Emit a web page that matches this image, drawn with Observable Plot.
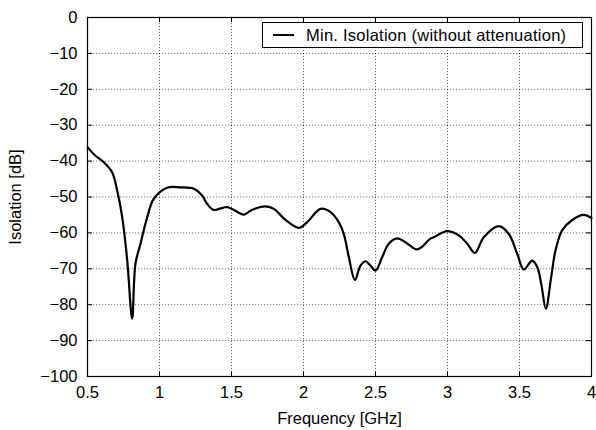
<!DOCTYPE html>
<html>
<head>
<meta charset="utf-8">
<script src="https://cdn.jsdelivr.net/npm/d3@7"></script>
<script src="https://cdn.jsdelivr.net/npm/@observablehq/plot@0.6"></script>
<style>
  html, body { margin: 0; padding: 0; background: #fff; }
  #wrap { position: relative; width: 596px; height: 430px; font-family: "Liberation Sans", Arial, Helvetica, sans-serif; }
  #legend { position: absolute; left: 262px; top: 22px; width: 321px; height: 26px; border: 1px solid #000; background: #fff; box-sizing: border-box; display: flex; align-items: center; font-size: 16.5px; letter-spacing: 0.25px; color: #000; white-space: nowrap; }
  #legend .sw { width: 21px; height: 0; border-top: 2px solid #000; margin-left: 10px; margin-right: 12px; }
</style>
</head>
<body>
<div id="wrap"></div>
<script>
const freq = [0.5, 0.55, 0.613, 0.671, 0.706, 0.741, 0.776, 0.81, 0.833, 0.868, 0.915, 0.96, 1.053, 1.146, 1.238, 1.296, 1.331, 1.377, 1.47, 1.585, 1.632, 1.701, 1.736, 1.794, 1.875, 1.968, 2.026, 2.118, 2.188, 2.245, 2.28, 2.315, 2.357, 2.396, 2.431, 2.465, 2.5, 2.546, 2.592, 2.651, 2.708, 2.782, 2.812, 2.882, 2.905, 2.998, 3.078, 3.137, 3.19, 3.252, 3.356, 3.426, 3.484, 3.53, 3.588, 3.623, 3.651, 3.683, 3.72, 3.75, 3.796, 3.866, 3.947, 4.0];
const isolation = [-36.1, -38.3, -40.3, -43.1, -48.2, -55.6, -67.7, -83.9, -68.6, -63, -55.6, -50.5, -47.4, -47.3, -47.7, -49.6, -51.9, -53.6, -52.8, -54.9, -53.8, -52.8, -52.6, -53.3, -56.4, -58.6, -57, -53.3, -54.2, -57, -60.3, -66.8, -73.1, -69.1, -67.9, -69.1, -70.5, -66.8, -63, -61.5, -62.6, -64.6, -64.2, -61.6, -61.2, -59.5, -60.7, -63, -65.6, -61.2, -58.1, -60.3, -65.8, -70.2, -67.7, -69.5, -74.2, -81.1, -72.3, -64.9, -59.3, -56.4, -55, -55.9];
const xTicks = [0.5, 1, 1.5, 2, 2.5, 3, 3.5, 4];
const yTicks = [0, -10, -20, -30, -40, -50, -60, -70, -80, -90, -100];
const seriesName = "Min. Isolation (without attenuation)";

const data = freq.map((f, i) => ({f, v: isolation[i]}));
const xGrid = xTicks.slice(1, -1);
const yGrid = yTicks.slice(1, -1);
const tickLenX = 5 / 144;   // ~5px in data units
const tickLenY = 5 / 3.59;

const chart = Plot.plot({
  width: 596,
  height: 430,
  marginLeft: 87,
  marginRight: 5,
  marginTop: 17,
  marginBottom: 54,
  style: {fontFamily: '"Liberation Sans", Arial, Helvetica, sans-serif', fontSize: "16.5px", color: "#000", background: "#fff"},
  x: {domain: [0.5, 4]},
  y: {domain: [-100, 0]},
  marks: [
    Plot.ruleX(xGrid, {x: d => d, stroke: "#000", strokeOpacity: 0.7, strokeWidth: 0.8, strokeDasharray: "1.2,1.8"}),
    Plot.ruleY(yGrid, {y: d => d, stroke: "#000", strokeOpacity: 0.7, strokeWidth: 0.8, strokeDasharray: "1.2,1.8"}),
    // inward ticks
    Plot.ruleX(xTicks, {x: d => d, y1: -100, y2: -100 + tickLenY, stroke: "#000"}),
    Plot.ruleX(xTicks, {x: d => d, y1: 0, y2: -tickLenY, stroke: "#000"}),
    Plot.ruleY(yTicks, {y: d => d, x1: 0.5, x2: 0.5 + tickLenX, stroke: "#000"}),
    Plot.ruleY(yTicks, {y: d => d, x1: 4, x2: 4 - tickLenX, stroke: "#000"}),
    Plot.axisX({ticks: xTicks, tickSize: 0, tickPadding: 10, fontSize: 16.5, tickFormat: d => String(d), label: "Frequency [GHz]", labelAnchor: "center", labelArrow: "none", labelOffset: 47}),
    Plot.axisY({ticks: yTicks, tickSize: 0, tickPadding: 10, fontSize: 16.5, tickFormat: d => d < 0 ? "\u2212" + Math.abs(d) : String(d), label: "Isolation [dB]", labelAnchor: "center", labelArrow: "none", labelOffset: 78}),
    Plot.line(data, {x: "f", y: "v", curve: "catmull-rom", stroke: "#000", strokeWidth: 2.2}),
    Plot.frame({stroke: "#000", strokeWidth: 1.2})
  ]
});

const wrap = document.getElementById("wrap");
wrap.appendChild(chart);
const lg = document.createElement("div");
lg.id = "legend";
lg.innerHTML = '<div class="sw"></div><span>' + seriesName + '</span>';
wrap.appendChild(lg);
</script>
</body>
</html>
